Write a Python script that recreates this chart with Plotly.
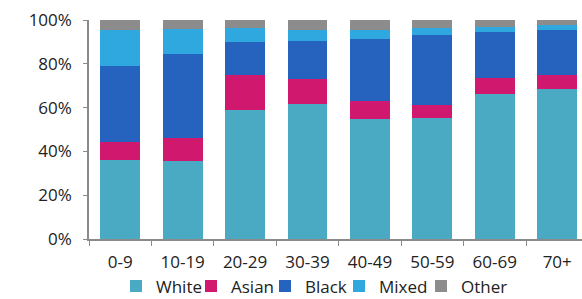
import plotly.graph_objects as go

categories = ["0-9", "10-19", "20-29", "30-39", "40-49", "50-59", "60-69", "70+"]
white = [36.2, 35.8, 58.8, 61.6, 54.9, 55.4, 66.1, 68.6]
asian = [7.9, 10.5, 15.9, 11.5, 8.3, 5.6, 7.6, 6.1]
black = [34.9, 38.0, 15.3, 17.3, 28.1, 32.0, 21.0, 20.7]
mixed = [16.4, 11.7, 6.3, 5.0, 4.1, 3.3, 2.1, 2.3]
other = [4.6, 4.0, 3.7, 4.6, 4.6, 3.7, 3.2, 2.3]
series_names = ["White", "Asian", "Black", "Mixed", "Other"]
tick_vals = [0, 20, 40, 60, 80, 100]
tick_text = ["0%", "20%", "40%", "60%", "80%", "100%"]

colors = ["#4aaac4", "#d1186f", "#2563be", "#2ea8df", "#8c8c8c"]
font = "Open Sans"
W, H = 582, 299
# legend text start positions (px) in the reference
legend_text_x = [150, 225, 299, 373, 455]

fig = go.Figure()
legend_ids = ["legend", "legend2", "legend3", "legend4", "legend5"]
for name, vals, c, lid in zip(series_names, [white, asian, black, mixed, other], colors, legend_ids):
    fig.add_trace(go.Bar(x=categories, y=vals, name=name, legend=lid,
                         marker=dict(color=c, line=dict(width=0))))

legend_common = dict(orientation="h", xref="container", yref="container",
                     xanchor="left", y=0.042, yanchor="middle",
                     font=dict(size=17), itemwidth=30, bgcolor="rgba(0,0,0,0)",
                     entrywidth=66, entrywidthmode="pixels")
layout_legends = {}
for lid, tx in zip(legend_ids, legend_text_x):
    layout_legends[lid] = dict(legend_common, x=(tx + 6 - 40) / W)

fig.update_layout(
    barmode="stack",
    bargap=0.36,
    width=W, height=H,
    margin=dict(l=89, r=0, t=20, b=60, autoexpand=False),
    paper_bgcolor="white", plot_bgcolor="white",
    font=dict(family=font, size=17, color="#222"),
    showlegend=True,
    **layout_legends,
)
fig.update_xaxes(
    range=[-0.5, 7.397], automargin=False,
    showline=True, linecolor="#8a8a8a", linewidth=1.5,
    ticks="outside", tickson="boundaries", ticklen=5, tickcolor="#8a8a8a",
    showgrid=False, tickfont=dict(size=17), ticklabelstandoff=7,
)
fig.update_yaxes(
    range=[0, 100], tickvals=tick_vals, ticktext=tick_text, automargin=False,
    showline=True, linecolor="#8a8a8a", linewidth=1.5,
    ticks="outside", ticklen=4, tickcolor="#8a8a8a",
    showgrid=False, zeroline=False, tickfont=dict(size=17), ticklabelstandoff=8,
)
fig.write_html("out.html", config={"displayModeBar": False},
               post_script="document.body.style.margin='0px';document.body.style.overflow='hidden';")
